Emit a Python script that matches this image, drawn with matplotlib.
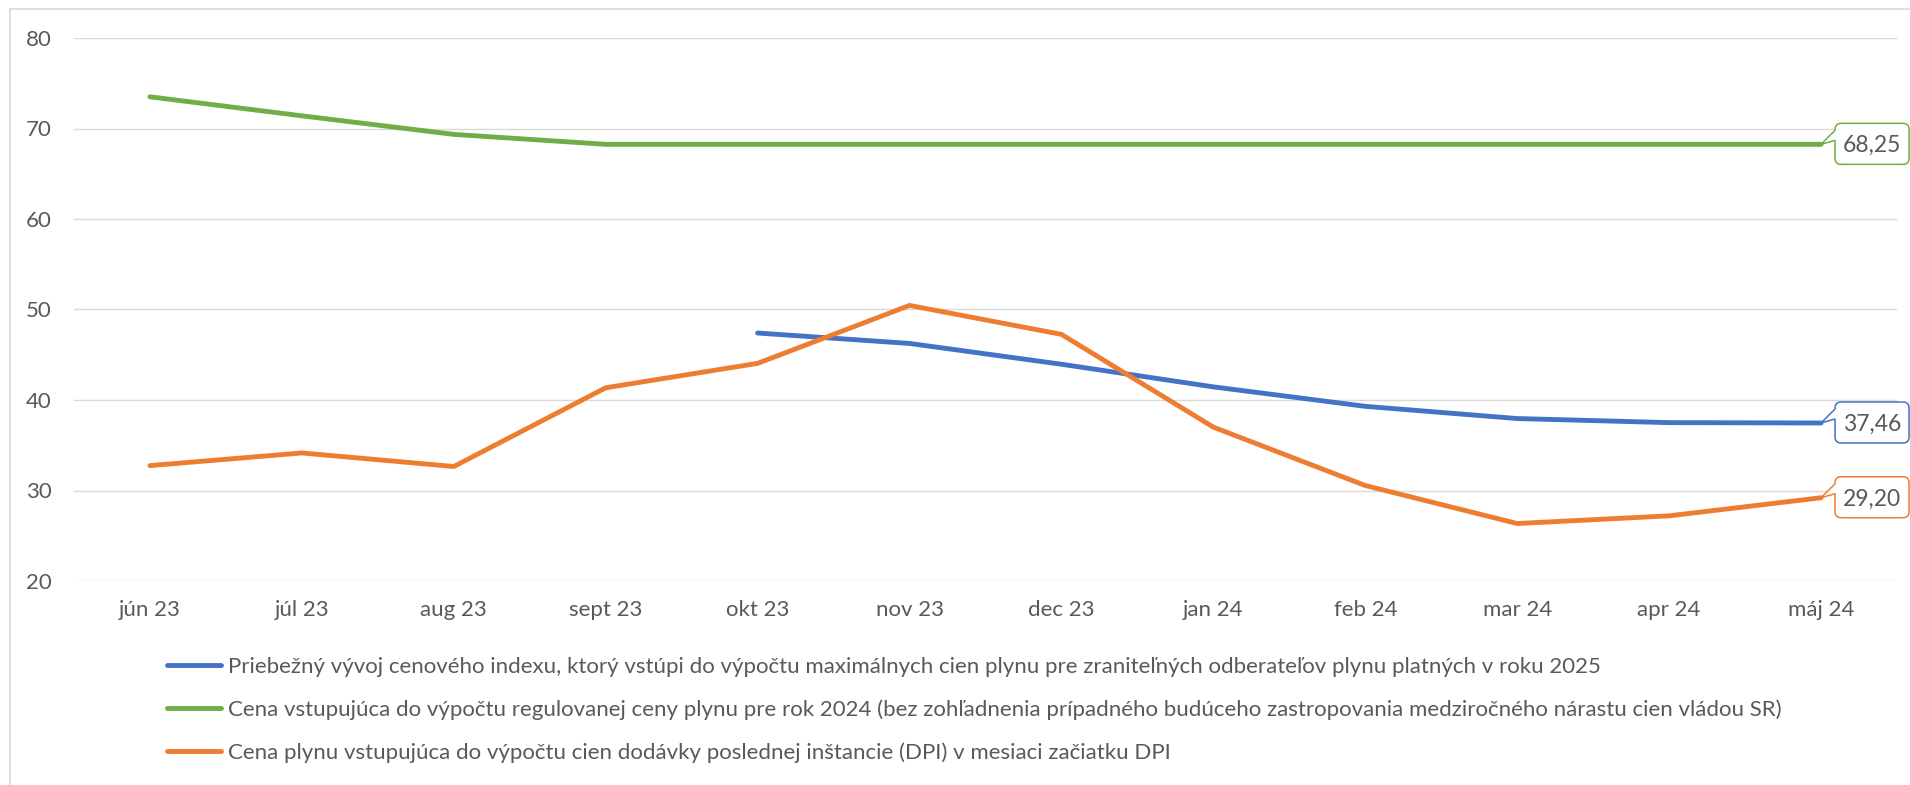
import numpy as np
import matplotlib
matplotlib.use("Agg")
import matplotlib.pyplot as plt
from matplotlib.path import Path
from matplotlib.patches import PathPatch, Rectangle
from matplotlib.lines import Line2D
from matplotlib.transforms import Affine2D, IdentityTransform

plt.rcParams['font.family'] = ['Lato', 'DejaVu Sans']

# ---------------- data ----------------
months = ['jún 23', 'júl 23', 'aug 23', 'sept 23', 'okt 23', 'nov 23',
          'dec 23', 'jan 24', 'feb 24', 'mar 24', 'apr 24', 'máj 24']
index_2025 = [np.nan, np.nan, np.nan, np.nan, 47.4, 46.25, 43.95, 41.45,
              39.3, 37.95, 37.5, 37.46]
regulated_2024 = [73.5, 71.4, 69.35, 68.25, 68.25, 68.25, 68.25, 68.25,
                  68.25, 68.25, 68.25, 68.25]
dpi_price = [32.75, 34.15, 32.65, 41.35, 44.05, 50.45, 47.25, 37.0,
             30.55, 26.35, 27.2, 29.2]
series_labels = [
    'Priebežný vývoj cenového indexu, ktorý vstúpi do výpočtu maximálnych cien plynu pre zraniteľných odberateľov plynu platných v roku 2025',
    'Cena vstupujúca do výpočtu regulovanej ceny plynu pre rok 2024 (bez zohľadnenia prípadného budúceho zastropovania medziročného nárastu cien vládou SR)',
    'Cena plynu vstupujúca do výpočtu cien dodávky poslednej inštancie (DPI) v mesiaci začiatku DPI',
]
last_labels = ['37,46', '68,25', '29,20']
y_ticks = [20, 30, 40, 50, 60, 70, 80]

colors = ['#4472C4', '#70AD47', '#ED7D31']
text_color = '#595959'
grid_color = '#D9D9D9'

W, H = 1910, 785
fig = plt.figure(figsize=(W / 100, H / 100), dpi=100)
fig.patch.set_facecolor('white')

# chart area border
fig.patches.append(Rectangle((10, -20), W + 40, H - 9 + 20, transform=IdentityTransform(),
                             fill=False, edgecolor=grid_color, linewidth=1.2, figure=fig))

ax = fig.add_axes([74 / W, (H - 581) / H, (1897 - 74) / W, (581 - 38) / H])
x = np.arange(len(months))
all_series = [index_2025, regulated_2024, dpi_price]
for vals, c in zip(all_series, colors):
    ax.plot(x, vals, color=c, lw=3.5, solid_capstyle='round', solid_joinstyle='round', zorder=3)

ax.set_xlim(-0.5, len(months) - 0.5)
ax.set_ylim(y_ticks[0], y_ticks[-1])
ax.set_yticks(y_ticks)
ax.set_xticks(x)
ax.set_xticklabels(months)
ax.yaxis.grid(True, color=grid_color, lw=1.0)
ax.set_axisbelow(True)
for s in ax.spines.values():
    s.set_visible(False)
ax.tick_params(axis='both', length=0, labelsize=16, labelcolor=text_color)
ax.tick_params(axis='y', pad=16)
ax.tick_params(axis='x', pad=14)

# callouts for last values
def callout(px, py, color, label):
    L, R, T, B, r = 14, 88, -21, 20, 6
    n1, n2 = -14, -4
    verts = [(0, 0), (L, n2), (L, B - r), (L, B), (L + r, B), (R - r, B), (R, B), (R, B - r),
             (R, T + r), (R, T), (R - r, T), (L + r, T), (L, T), (L, T + r), (L, n1), (0, 0)]
    codes = [Path.MOVETO, Path.LINETO, Path.LINETO, Path.CURVE3, Path.CURVE3, Path.LINETO,
             Path.CURVE3, Path.CURVE3, Path.LINETO, Path.CURVE3, Path.CURVE3, Path.LINETO,
             Path.CURVE3, Path.CURVE3, Path.LINETO, Path.CLOSEPOLY]
    tr = Affine2D().scale(1, -1).translate(px, py)
    patch = PathPatch(Path(verts, codes), transform=tr, facecolor='white',
                      edgecolor=color, lw=1.1, zorder=5)
    patch.set_clip_on(False)
    fig.patches.append(patch)
    patch.set_figure(fig)
    fig.text((px + (L + R) / 2) / W, (py + 0.5) / H, label, ha='center', va='center_baseline',
             fontsize=16.5, color=text_color, zorder=6)

for vals, c, lab in zip(all_series, colors, last_labels):
    px, py = ax.transData.transform((x[-1], vals[-1]))
    callout(px, py, c, lab)

# legend
handles = [Line2D([0], [0], color=c, lw=3.5, solid_capstyle='round') for c in colors]
fig.legend(handles, series_labels, loc='upper left', bbox_to_anchor=(167 / W, (H - 657) / H),
           frameon=False, fontsize=16, labelcolor=text_color, borderpad=0, borderaxespad=0,
           handlelength=2.45, handletextpad=0.3, labelspacing=1.0)

fig.savefig('out.png', dpi=100)
